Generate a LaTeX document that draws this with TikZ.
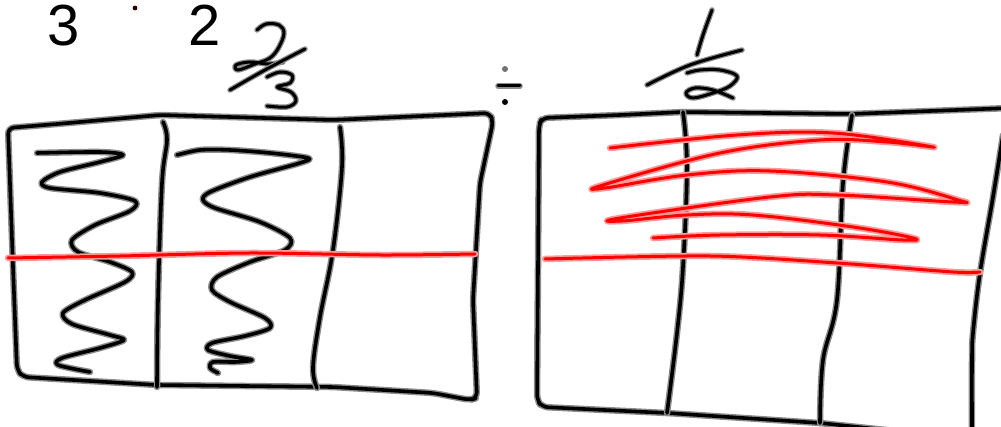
\documentclass[tikz,border=0pt]{standalone}
\usepackage{fontspec}
\setsansfont{Liberation Sans}
\usepackage{tikz}
\tikzset{
  ink/.style={line width=3.6pt, line cap=round, line join=round,
    preaction={draw=black!45, line width=6.5pt, line cap=round, line join=round}},
  thinink/.style={line width=3pt, line cap=round, line join=round,
    preaction={draw=black!45, line width=5.5pt, line cap=round, line join=round}},
  redink/.style={draw=red, line width=3pt, line cap=round, line join=round,
    preaction={draw=red!40, line width=6.5pt, line cap=round, line join=round}},
  digit/.style={font=\sffamily\fontsize{58}{60}\selectfont, inner sep=0pt}
}

\begin{document}
\begin{tikzpicture}[x=1pt, y=-1pt]
  \useasboundingbox (0,0) rectangle (1001,427);
  \clip (0,0) rectangle (1001,427);

  % Typed product
  \node[digit] (three) at (64,26) {3};
  \node[digit] (two) at (205,25) {2};
  \fill[black!85!red] (135,8) circle (2.4);

  % Handwritten 2/3
  \draw[thinink] plot[smooth, tension=0.6] coordinates {(257,30) (266,24) (279,25) (284,33) (279,47) (270,58) (255,64) (238,70) (236,65) (250,62) (268,64) (283,62)};
  \draw[thinink] plot[smooth, tension=0.6] coordinates {(230,90) (265,70) (305,49)};
  \draw[thinink] plot[smooth, tension=0.6] coordinates {(267,77) (280,72) (292,75) (290,83) (277,87) (291,92) (296,101) (287,107) (267,106)};

  % Division sign
  \fill[black!55] (505,69) circle (3);
  \fill (505,102) circle (3);
  \draw[thinink] (498,86) -- (520,86);

  % Handwritten 1/2
  \draw[thinink] plot[smooth, tension=0.6] coordinates {(712,10) (703,35) (697,55)};
  \draw[thinink] plot[smooth, tension=0.6] coordinates {(647,85) (690,65) (742,50)};
  \draw[thinink] plot[smooth, tension=0.6] coordinates {(687,73) (700,70) (720,70) (737,76) (730,86) (713,93) (693,98) (686,93) (695,88) (713,90) (733,98)};

  % Left box: thirds, shaded two of them
  \begin{scope}
    \draw[ink, rounded corners=6pt] (8,128) -- (57,124) -- (160,115) -- (333,120) -- (490,113) -- (493,122)
      -- (480,183) -- (473,300) -- (477,398) -- (470,400) -- (433,393) -- (333,387) -- (157,385)
      -- (23,377) -- (17,370) -- (13,267) -- cycle;
    \draw[ink] plot[smooth, tension=0.6] coordinates {(163,122) (167,140) (162,183) (158,300) (157,387)};
    \draw[ink] plot[smooth, tension=0.6] coordinates {(340,127) (342,167) (333,250) (320,317) (313,367) (317,388)};
    \draw[ink] plot[smooth, tension=0.5] coordinates {(37,153) (100,152) (123,155) (100,162) (60,172) (42,182) (50,188) (100,193) (135,201) (130,211) (95,225) (72,240) (78,252) (110,262) (132,272) (125,282) (85,300) (63,313) (72,324) (110,335) (124,340) (100,348) (62,358) (58,365) (90,372)};
    \draw[ink] plot[smooth, tension=0.5] coordinates {(177,155) (200,150) (230,150) (270,153) (308,158) (300,163) (250,177) (210,192) (203,200) (215,208) (260,222) (290,238) (285,250) (250,262) (217,277) (212,290) (230,302) (265,318) (270,328) (245,336) (212,343) (208,350) (230,356) (252,360) (235,362) (213,362) (210,368) (218,373)};
    \draw[redink] plot[smooth, tension=0.5] coordinates {(8,258) (120,256) (250,253) (380,255) (475,254)};
  \end{scope}

  % Right box: thirds, top half shaded
  \begin{scope}
    \draw[ink, rounded corners=6pt] (1010,108) -- (850,114) -- (683,112) -- (620,115) -- (542,118)
      -- (539,125) -- (538,267) -- (537,400) -- (542,407) -- (667,413) -- (820,423) -- (905,432);
    \draw[ink] plot[smooth, tension=0.6] coordinates {(1003,135) (993,197) (980,273) (973,333) (972,360) (972,432)};
    \draw[ink] plot[smooth, tension=0.6] coordinates {(683,112) (687,167) (683,267) (677,333) (667,413)};
    \draw[ink] plot[smooth, tension=0.6] coordinates {(852,115) (843,183) (837,300) (823,360) (820,423)};
    \draw[redink] plot[smooth, tension=0.6] coordinates {(610,148) (737,135) (833,133) (933,147) (887,142) (820,140) (720,153) (603,185) (605,188) (687,175) (770,171) (887,182) (958,200) (953,202) (837,195) (770,197) (620,218) (622,221) (687,215) (753,215) (853,227) (913,238) (903,240) (820,235) (720,235) (653,238)};
    \draw[redink] plot[smooth, tension=0.5] coordinates {(545,259) (710,256) (837,263) (953,272) (980,272)};
  \end{scope}
\end{tikzpicture}
\end{document}
